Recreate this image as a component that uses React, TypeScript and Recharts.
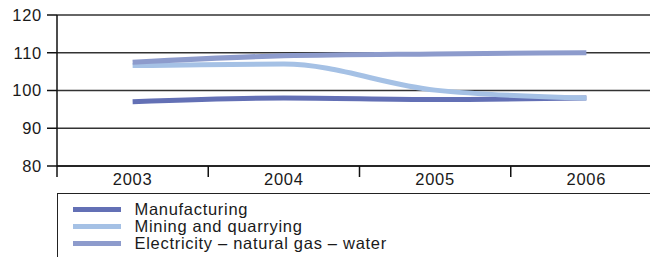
import React from "react";
import {
  CartesianGrid,
  Legend,
  Line,
  LineChart,
  XAxis,
  YAxis,
} from "recharts";

const years = ["2003", "2004", "2005", "2006"];
const manufacturing = [97.0, 98.0, 97.6, 98.0];
const mining = [106.6, 107.0, 100.1, 98.0];
const electricity = [107.5, 109.2, 109.7, 110.0];
const yTicks = [80, 90, 100, 110, 120];

const seriesInfo = [
  { key: "manufacturing", name: "Manufacturing", color: "#6370b5" },
  { key: "mining", name: "Mining and quarrying", color: "#a5c1e5" },
  { key: "electricity", name: "Electricity \u2013 natural gas \u2013 water", color: "#8d9bcc" },
];

const data = years.map((year, i) => ({
  year,
  manufacturing: manufacturing[i],
  mining: mining[i],
  electricity: electricity[i],
}));

const CHART_W = 662;
const CHART_H = 257;
const AXIS_W = 57;
const PLOT_TOP = 15;
const PLOT_BOTTOM = 166;
const BAND = (CHART_W - AXIS_W) / years.length;
const TEXT = "#1a1a1a";

function YearTick(props: any) {
  const { x, payload } = props;
  const left = x - BAND / 2;
  return (
    <g>
      <line x1={left} x2={left} y1={PLOT_BOTTOM} y2={PLOT_BOTTOM + 11} stroke="#111" strokeWidth={1.5} />
      <text x={x} y={185} textAnchor="middle" fill={TEXT} fontSize={16.5}>
        {payload.value}
      </text>
    </g>
  );
}

function LegendBox() {
  return (
    <div
      style={{
        width: "100%",
        height: "100%",
        borderTop: "1.5px solid #222",
        borderLeft: "1.5px solid #222",
        boxSizing: "border-box",
        paddingTop: 6.5,
      }}
    >
      {seriesInfo.map((s) => (
        <div key={s.key} style={{ display: "flex", alignItems: "center", height: 17 }}>
          <div style={{ width: 48, height: 5, background: s.color, marginLeft: 14.5 }} />
          <div style={{ marginLeft: 14, fontSize: 16.5, lineHeight: "17px", color: TEXT, whiteSpace: "nowrap" }}>
            {s.name}
          </div>
        </div>
      ))}
    </div>
  );
}

export default function App() {
  return (
    <div
      style={{
        position: "absolute",
        left: 0,
        top: 0,
        width: 650,
        height: 257,
        overflow: "hidden",
        background: "#fff",
        fontFamily: '"Liberation Sans", Arial, sans-serif',
        letterSpacing: "0.7px",
      }}
    >
      <LineChart
        width={CHART_W}
        height={CHART_H}
        data={data}
        margin={{ top: PLOT_TOP, right: 0, left: 0, bottom: CHART_H - PLOT_BOTTOM - 27 }}
      >
        <CartesianGrid vertical={false} stroke="#333" strokeWidth={1.5} />
        <XAxis
          dataKey="year"
          height={27}
          padding={{ left: BAND / 2, right: BAND / 2 }}
          tickLine={false}
          tickSize={0}
          axisLine={{ stroke: "#111", strokeWidth: 1.5 }}
          tick={<YearTick />}
          interval={0}
        />
        <YAxis
          width={AXIS_W}
          domain={[80, 120]}
          ticks={yTicks}
          tickSize={10}
          tickMargin={5}
          axisLine={{ stroke: "#111", strokeWidth: 1.5 }}
          tickLine={{ stroke: "#111", strokeWidth: 1.5 }}
          tick={{ fill: TEXT, fontSize: 16.5 }}
        />
        <Legend
          layout="vertical"
          align="center"
          verticalAlign="middle"
          wrapperStyle={{ top: 193, left: AXIS_W, width: 605, height: 70 }}
          content={<LegendBox />}
        />
        {seriesInfo.map((s) => (
          <Line
            key={s.key}
            type="monotone"
            dataKey={s.key}
            name={s.name}
            stroke={s.color}
            strokeWidth={5}
            dot={false}
            activeDot={false}
            isAnimationActive={false}
          />
        ))}
      </LineChart>
    </div>
  );
}
